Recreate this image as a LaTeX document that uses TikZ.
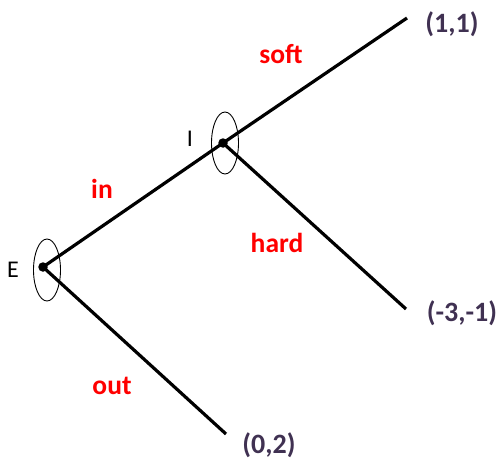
\documentclass[tikz,border=0pt]{standalone}
\usepackage{fontspec}
\setmainfont{Carlito}
\usetikzlibrary{shapes.geometric,positioning}
\definecolor{PayoffPurple}{HTML}{403152}
\definecolor{MoveRed}{HTML}{FF0000}
\tikzset{
    % decision nodes of the tree
    decision node/.style={
        circle,
        fill=black,
        inner sep=0pt,
        minimum size=9.5pt
    },
    info set/.style={
        ellipse,
        draw=black,
        line width=0.9pt,
        minimum width=27pt,
        minimum height=62pt,
        inner sep=0pt
    },
    player label/.style={
        font=\fontsize{24}{28}\selectfont,
        text=black
    },
    move label/.style={
        font=\fontsize{27.5}{32}\selectfont\bfseries,
        text=MoveRed
    },
    payoff/.style={
        font=\fontsize{28}{33}\selectfont\bfseries,
        text=PayoffPurple,
        inner sep=0.5pt
    },
    branch/.style={
        line width=3.2pt,
        color=black
    }
}

\begin{document}
\begin{tikzpicture}[x=1pt, y=-1pt]
        \useasboundingbox (0,0) rectangle (501,460);

        % Decision nodes
        \node[decision node] (entrant) at (43,267) {};
        \node[decision node] (incumbent) at (223,143) {};

        % Information sets
        \node[info set] (entrantset) at (47,270) {};
        \node[info set] (incumbentset) at (225,143) {};

        % Player names
        \node[player label] (elabel) at (13,270) {E};
        \node[player label] (ilabel) at (190,139) {I};

        % Ends of the branches
        \coordinate (softend) at (407,18);
        \coordinate (hardend) at (406,309);
        \coordinate (outend) at (226,434);

        % Payoffs
        \node[payoff] (softpay) at (452,24) {(1,1)};
        \node[payoff] (hardpay) at (462,313) {(-3,-1)};
        \node[payoff] (outpay) at (269,445) {(0,2)};

        % Moves
        \node[move label] (soft) at (281,54) {soft};
        \node[move label] (in) at (102,189) {in};
        \node[move label] (hard) at (277,243) {hard};
        \node[move label] (out) at (112,386) {out};

        % Branches
        \draw[branch] (entrant.center) -- (incumbent.center);
        \draw[branch] (entrant.center) -- (outend);
        \draw[branch] (incumbent.center) -- (softend);
        \draw[branch] (incumbent.center) -- (hardend);
    \end{tikzpicture}
\end{document}
